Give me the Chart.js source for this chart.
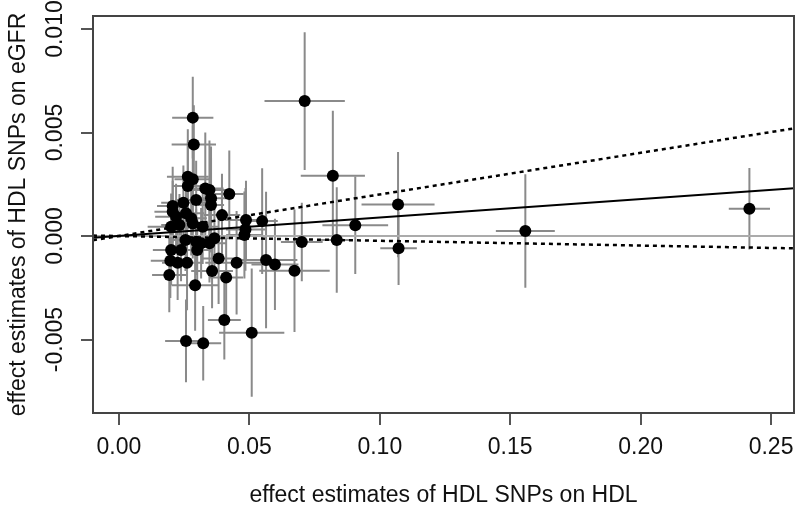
<!DOCTYPE html>
<html>
<head>
<meta charset="utf-8">
<script src="https://cdn.jsdelivr.net/npm/chart.js@4.4.1/dist/chart.umd.min.js"></script>
<style>
  body { margin: 0; background: #fff; }
  canvas { display: block; }
</style>
</head>
<body>
<canvas id="Chart" width="800" height="505"></canvas>
<script>
'use strict';
// effets des SNPs HDL : sur HDL (x) et sur eGFR (y), avec erreurs standard
const bx = [0.0712, 0.0820, 0.0835, 0.0906, 0.1070, 0.1072, 0.1558, 0.2417, 0.0701, 0.0673,
            0.0549, 0.0564, 0.0598, 0.0509, 0.0404, 0.0257, 0.0323, 0.0292, 0.0411, 0.0357,
            0.0451, 0.0382, 0.0193, 0.0197, 0.0225, 0.0261, 0.0200, 0.0238, 0.0300, 0.0255,
            0.0296, 0.0315, 0.0347, 0.0366, 0.0481, 0.0485, 0.0487, 0.0200, 0.0232, 0.0283,
            0.0321, 0.0219, 0.0257, 0.0277, 0.0395, 0.0206, 0.0206, 0.0247, 0.0296, 0.0423,
            0.0353, 0.0353, 0.0331, 0.0347, 0.0264, 0.0283, 0.0264, 0.0283, 0.0287];
const by = [0.00652, 0.00291, -0.00019, 0.00052, 0.00152, -0.00059, 0.00024, 0.00132, -0.00029, -0.00168,
            0.00072, -0.00116, -0.00137, -0.00467, -0.00406, -0.00507, -0.00518, -0.00238, -0.00200, -0.00169,
            -0.00129, -0.00108, -0.00188, -0.00120, -0.00129, -0.00129, -0.00068, -0.00068, -0.00068, -0.00019,
            -0.00028, -0.00035, -0.00035, -0.00011, 0.00005, 0.00032, 0.00077, 0.00045, 0.00053, 0.00061,
            0.00045, 0.00093, 0.00110, 0.00086, 0.00101, 0.00145, 0.00117, 0.00161, 0.00174, 0.00203,
            0.00182, 0.00150, 0.00230, 0.00222, 0.00286, 0.00274, 0.00242, 0.00572, 0.00442];
const seX = [0.0154, 0.0123, 0.0060, 0.0126, 0.0140, 0.0070, 0.0113, 0.0079, 0.0080, 0.0135,
             0.0060, 0.0120, 0.0090, 0.0125, 0.0063, 0.0080, 0.0069, 0.0090, 0.0065, 0.0080,
             0.0120, 0.0060, 0.0066, 0.0075, 0.0060, 0.0060, 0.0070, 0.0060, 0.0060, 0.0060,
             0.0050, 0.0055, 0.0065, 0.0060, 0.0070, 0.0075, 0.0080, 0.0090, 0.0070, 0.0065,
             0.0060, 0.0080, 0.0070, 0.0060, 0.0070, 0.0060, 0.0070, 0.0085, 0.0080, 0.0055,
             0.0060, 0.0050, 0.0070, 0.0065, 0.0080, 0.0070, 0.0060, 0.0079, 0.0085];
const seY = [0.00333, 0.00314, 0.00255, 0.00235, 0.00254, 0.00177, 0.00274, 0.00197, 0.00190, 0.00296,
             0.00256, 0.00330, 0.00220, 0.00310, 0.00190, 0.00200, 0.00180, 0.00220, 0.00190, 0.00180,
             0.00250, 0.00220, 0.00180, 0.00180, 0.00180, 0.00230, 0.00170, 0.00150, 0.00160, 0.00150,
             0.00160, 0.00170, 0.00190, 0.00180, 0.00210, 0.00200, 0.00190, 0.00160, 0.00150, 0.00170,
             0.00180, 0.00160, 0.00170, 0.00180, 0.00200, 0.00190, 0.00150, 0.00180, 0.00190, 0.00210,
             0.00250, 0.00230, 0.00270, 0.00240, 0.00230, 0.00260, 0.00210, 0.00198, 0.00190];

// pentes des droites (passant par l'origine) : estimation et intervalle
const slopeFit = 0.0089;
const slopeUpper = 0.0201;
const slopeLower = -0.0023;

// axes
const xMin = -0.00995, xMax = 0.2588;
const yMin = -0.00855, yMax = 0.01063;
const xTicks = [0, 0.05, 0.10, 0.15, 0.20, 0.25];
const yTicks = [-0.005, 0, 0.005, 0.010];
const xTitle = 'effect estimates of HDL SNPs on HDL';
const yTitle = 'effect estimates of HDL SNPs on eGFR';

const FONT = "'Liberation Sans', Arial, sans-serif";

//droite y = pente * x sur toute la largeur
function ligne(pente) {
    return [{ x: xMin, y: pente * xMin }, { x: xMax, y: pente * xMax }];
}

//barres d'erreur dessinées avec les échelles du graphique
const errorBars = {
    id: 'errorBars',
    beforeDatasetsDraw(chart) {
        const { ctx, chartArea, scales: { x, y } } = chart;
        ctx.save();
        ctx.beginPath();
        ctx.rect(chartArea.left, chartArea.top, chartArea.width, chartArea.height);
        ctx.clip();
        ctx.strokeStyle = '#8a8a8a';
        ctx.lineWidth = 2;
        bx.forEach((v, i) => {
            const px = x.getPixelForValue(v), py = y.getPixelForValue(by[i]);
            ctx.beginPath();
            ctx.moveTo(x.getPixelForValue(v - seX[i]), py);
            ctx.lineTo(x.getPixelForValue(v + seX[i]), py);
            ctx.moveTo(px, y.getPixelForValue(by[i] - seY[i]));
            ctx.lineTo(px, y.getPixelForValue(by[i] + seY[i]));
            ctx.stroke();
        });
        ctx.restore();
    }
};

//cadre et titre de l'axe y
const cadre = {
    id: 'cadre',
    afterDraw(chart) {
        const { ctx, chartArea } = chart;
        ctx.save();
        ctx.strokeStyle = '#444';
        ctx.lineWidth = 2;
        ctx.strokeRect(chartArea.left, chartArea.top, chartArea.width, chartArea.height);
        ctx.translate(19, (chartArea.top + chartArea.bottom) / 2);
        ctx.rotate(-Math.PI / 2);
        ctx.fillStyle = '#111';
        ctx.font = '23px ' + FONT;
        ctx.textAlign = 'center';
        ctx.textBaseline = 'middle';
        ctx.fillText(yTitle, 0, 0);
        ctx.restore();
    }
};

const ctx = document.getElementById('Chart').getContext('2d');
new Chart(ctx, {
    type: 'scatter',
    data: {
        datasets: [
            { type: 'line', data: ligne(0), borderColor: '#ababab', borderWidth: 2, pointRadius: 0, order: 3 },
            { data: bx.map((v, i) => ({ x: v, y: by[i] })), backgroundColor: '#000', borderColor: '#000',
              pointRadius: 6, borderWidth: 0, order: 2 },
            { type: 'line', data: ligne(slopeFit), borderColor: '#000', borderWidth: 2, pointRadius: 0, order: 1 },
            { type: 'line', data: ligne(slopeUpper), borderColor: '#000', borderWidth: 2.5, borderDash: [4, 4], pointRadius: 0, order: 1 },
            { type: 'line', data: ligne(slopeLower), borderColor: '#000', borderWidth: 2.5, borderDash: [4, 4], pointRadius: 0, order: 1 }
        ]
    },
    options: {
        responsive: false,
        animation: false,
        layout: { padding: { top: 16, right: 3, left: 0, bottom: 0 } },
        plugins: { legend: { display: false }, tooltip: { enabled: false } },
        scales: {
            x: {
                type: 'linear', min: xMin, max: xMax,
                afterFit: s => { s.height = 92; s.paddingLeft = 0; s.paddingRight = 0; },
                afterBuildTicks: s => { s.ticks = xTicks.map(v => ({ value: v })); },
                ticks: { callback: v => v.toFixed(2), font: { size: 23, family: FONT }, color: '#111',
                         padding: 9, maxRotation: 0, autoSkip: false },
                grid: { drawOnChartArea: false, drawTicks: true, tickLength: 12, color: '#555', lineWidth: 2 },
                border: { display: false },
                title: { display: true, text: xTitle, font: { size: 23, family: FONT }, color: '#111',
                         padding: { top: 0, bottom: -4 } }
            },
            y: {
                type: 'linear', min: yMin, max: yMax,
                afterFit: s => { s.width = 93; s.paddingTop = 0; s.paddingBottom = 0; },
                afterBuildTicks: s => { s.ticks = yTicks.map(v => ({ value: v })); },
                ticks: { callback: v => v.toFixed(3), font: { size: 23, family: FONT }, color: '#111',
                         minRotation: 90, maxRotation: 90, crossAlign: 'center', padding: -7, autoSkip: false },
                grid: { drawOnChartArea: false, drawTicks: true, tickLength: 12, color: '#555', lineWidth: 2 },
                border: { display: false }
            }
        }
    },
    plugins: [errorBars, cadre]
});
</script>
</body>
</html>
